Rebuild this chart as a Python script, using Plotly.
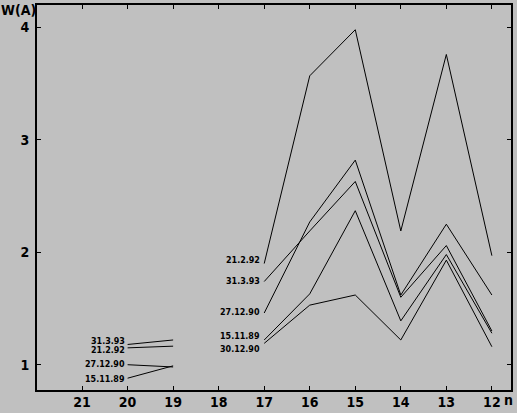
import plotly.graph_objects as go

# x positions (n), right group and left group
x_right = [17, 16, 15, 14, 13, 12]
x_left = [20, 19]

# series values (W(A))
series_names = ["21.2.92", "31.3.93", "27.12.90", "15.11.89", "30.12.90"]
right_vals = {
    "21.2.92":  [1.90, 3.57, 3.98, 2.19, 3.76, 1.97],
    "31.3.93":  [1.74, 2.19, 2.63, 1.60, 2.06, 1.30],
    "27.12.90": [1.46, 2.27, 2.82, 1.62, 2.25, 1.62],
    "15.11.89": [1.22, 1.63, 2.37, 1.39, 1.98, 1.28],
    "30.12.90": [1.19, 1.53, 1.62, 1.22, 1.93, 1.16],
}
left_names = ["31.3.93", "21.2.92", "27.12.90", "15.11.89"]
left_vals = {
    "31.3.93":  [1.18, 1.22],
    "21.2.92":  [1.15, 1.165],
    "27.12.90": [1.00, 0.98],
    "15.11.89": [0.88, 0.99],
}

x_ticks = [21, 20, 19, 18, 17, 16, 15, 14, 13, 12]
y_ticks = [1, 2, 3, 4]

# label vertical nudges (px), style only
right_shift = {"21.2.92": 3, "31.3.93": 0, "27.12.90": 1, "15.11.89": 3, "30.12.90": -6}
left_shift = {"31.3.93": 3, "21.2.92": -3, "27.12.90": 0, "15.11.89": -1}

fig = go.Figure()
label_font = dict(family="DejaVu Sans", size=8, color="black", weight="bold")

for name in series_names:
    fig.add_trace(go.Scatter(x=x_right, y=right_vals[name], mode="lines",
                             line=dict(color="black", width=1), showlegend=False,
                             hoverinfo="skip"))
    fig.add_annotation(x=x_right[0], y=right_vals[name][0], text=name,
                       showarrow=False, xanchor="right", yanchor="middle",
                       xshift=-2, yshift=right_shift[name], font=label_font)

for name in left_names:
    fig.add_trace(go.Scatter(x=x_left, y=left_vals[name], mode="lines",
                             line=dict(color="black", width=1), showlegend=False,
                             hoverinfo="skip"))
    fig.add_annotation(x=x_left[0], y=left_vals[name][0], text=name,
                       showarrow=False, xanchor="right", yanchor="middle",
                       xshift=-1, yshift=left_shift[name], font=label_font)

tick_font = dict(family="Liberation Sans Narrow, DejaVu Sans Condensed, Liberation Sans, sans-serif",
                 size=14, color="black", weight="bold")

fig.add_annotation(x=0, y=1, xref="paper", yref="paper", xshift=-37, yshift=-5,
                   text="W(A)", showarrow=False, xanchor="left", yanchor="middle",
                   font=tick_font, borderpad=0)
fig.add_annotation(x=1, y=0, xref="paper", yref="paper", xshift=-8, yshift=-10,
                   text="n", showarrow=False, xanchor="left", yanchor="middle",
                   font=tick_font, borderpad=0)

fig.update_xaxes(range=[21.99, 11.58], tickvals=x_ticks,
                 ticktext=[str(v) for v in x_ticks],
                 ticks="inside", ticklen=4, tickwidth=1, tickcolor="black",
                 showline=True, linecolor="black", linewidth=2, mirror="ticks",
                 showgrid=False, zeroline=False, tickfont=tick_font,
                 ticklabelstandoff=-2)
fig.update_yaxes(range=[0.775, 4.2], tickvals=y_ticks,
                 ticktext=[str(v) for v in y_ticks],
                 ticks="inside", ticklen=4, tickwidth=1, tickcolor="black",
                 showline=True, linecolor="black", linewidth=2, mirror="ticks",
                 showgrid=False, zeroline=False, tickfont=tick_font,
                 ticklabelstandoff=3)

fig.update_layout(width=517, height=413, margin=dict(l=37, r=6, t=3, b=20),
                  paper_bgcolor="#c0c0c0", plot_bgcolor="#c0c0c0")

fig.write_html("out.html", config={"displayModeBar": False},
               post_script="document.body.style.margin='0';document.body.style.overflow='hidden';")
